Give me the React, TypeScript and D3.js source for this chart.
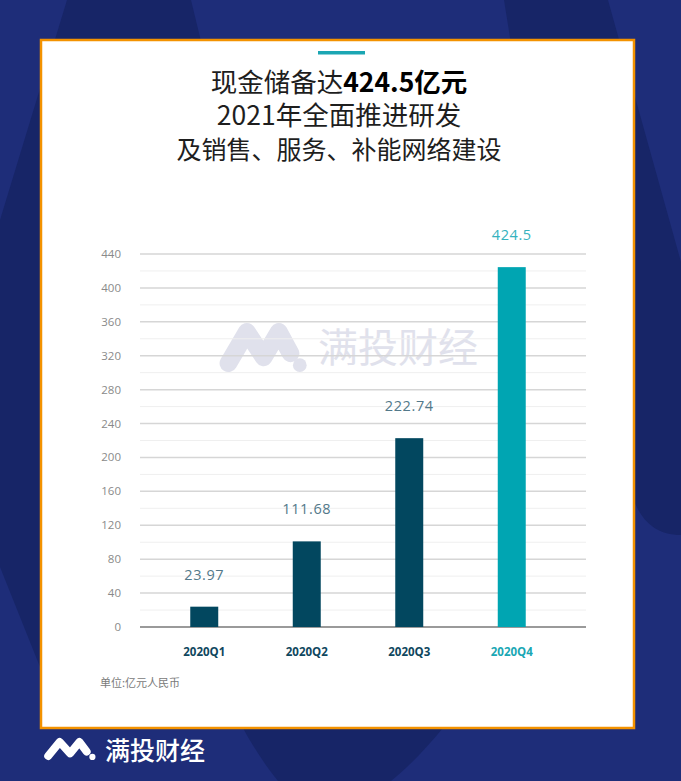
import React from "react";
import * as d3 from "d3";

const categories = ["2020Q1", "2020Q2", "2020Q3", "2020Q4"];
const barHeights = [23.97, 101.0, 222.74, 424.5];
const valueLabels = ["23.97", "111.68", "222.74", "424.5"];
const yTicks = [0, 40, 80, 120, 160, 200, 240, 280, 320, 360, 400, 440];
const minorTicks = [20, 60, 100, 140, 180, 220, 260, 300, 340, 380, 420];
const titleLine1Normal = "现金储备达";
const titleLine1Bold = "424.5亿元";
const titleLine2 = "2021年全面推进研发";
const titleLine3 = "及销售、服务、补能网络建设";
const unitText = "单位:亿元人民币";
const brandText = "满投财经";

const W = 681;
const H = 781;
const CJK = "'Noto Sans CJK SC', 'Noto Sans', sans-serif";
const LAT = "'Open Sans', 'Noto Sans', sans-serif";

function Logo({ x, y, w, h, color }: { x: number; y: number; w: number; h: number; color: string }) {
  const pts: [number, number][] = [
    [0.1, 0.82],
    [0.32, 0.18],
    [0.52, 0.7],
    [0.7, 0.18],
    [0.84, 0.62],
  ];
  const line = d3.line<[number, number]>().x((p) => x + p[0] * w).y((p) => y + p[1] * h);
  return (
    <g>
      <path d={line(pts) || ""} fill="none" stroke={color} strokeWidth={h * 0.36} strokeLinejoin="round" strokeLinecap="round" />
      <circle cx={x + 0.95 * w} cy={y + 0.86 * h} r={h * 0.14} fill={color} />
    </g>
  );
}

export default function App() {
  const y = d3.scaleLinear().domain([0, 440]).range([627, 254]);
  const x = d3.scaleBand<string>().domain(categories).range([153, 563]).paddingInner(0.727).paddingOuter(0.3635);
  const gx0 = 140;
  const gx1 = 586;
  const bw = x.bandwidth();
  const darkBar = "#02475f";
  const tealBar = "#00a5b2";

  return (
    <svg width={W} height={H} style={{ position: "absolute", left: 0, top: 0 }}>
      {/* background */}
      <rect x={0} y={0} width={W} height={H} fill="#1e2d79" />
      <path d="M67,0 L191,0 L300,450 L40,667 L0,567 L0,220 Z" fill="#172567" />
      <path d="M504,0 L608,0 L681,262 L681,535 C655,535 640,520 632,495 L520,100 Z" fill="#172567" />
      <path d="M243,728 L443,728 C425,750 405,770 391,781 L278,781 C265,765 252,745 243,728 Z" fill="#172567" />

      {/* panel */}
      <rect x={41} y={40} width={593} height={688} fill="#ffffff" stroke="#f39200" strokeWidth={2.5} />
      <rect x={318} y={51} width={47} height={3.5} fill="#1ba6b3" />

      {/* title */}
      <text textAnchor="middle" fontFamily={CJK} fontSize={26.5} fill="#1e1e1e">
        <tspan x={339} y={92}>
          <tspan fontWeight={400}>{titleLine1Normal}</tspan>
          <tspan fontWeight={700} fill="#000">{titleLine1Bold}</tspan>
        </tspan>
        <tspan x={339} y={125}>{titleLine2}</tspan>
        <tspan x={339} y={159} fontSize={25}>{titleLine3}</tspan>
      </text>

      {/* watermark */}
      <g opacity={0.9}>
        <Logo x={220} y={323} w={84} h={49} color="#dddeea" />
        <text x={318} y={362} fontFamily={CJK} fontSize={40} fontWeight={400} fill="#dddeea">{brandText}</text>
      </g>

      {/* gridlines */}
      {minorTicks.map((t) => (
        <line key={"m" + t} x1={gx0} x2={gx1} y1={y(t)} y2={y(t)} stroke="#efefef" strokeWidth={1} />
      ))}
      {yTicks.map((t) => (
        <line key={"g" + t} x1={gx0} x2={gx1} y1={y(t)} y2={y(t)} stroke={t === 0 ? "#9a9a9a" : "#d6d6d6"} strokeWidth={t === 0 ? 2 : 1.5} />
      ))}
      {yTicks.map((t) => (
        <text key={"t" + t} x={121} y={y(t) + 4} textAnchor="end" fontFamily={LAT} fontSize={11.5} fill="#8a8a8a">{t}</text>
      ))}

      {/* bars */}
      {categories.map((c, i) => {
        const isLast = i === categories.length - 1;
        return (
          <g key={c}>
            <rect x={x(c)!} y={y(barHeights[i])} width={bw} height={y(0) - y(barHeights[i])} fill={isLast ? tealBar : darkBar} />
            <text x={x(c)! + bw / 2} y={y(barHeights[i]) - 27} textAnchor="middle" fontFamily={LAT} fontSize={14.5} letterSpacing={0.6} fill={isLast ? "#35b2be" : "#53798a"}>{valueLabels[i]}</text>
            <text x={x(c)! + bw / 2} y={656} textAnchor="middle" fontFamily={LAT} fontSize={11.5} fontWeight={700} fill={isLast ? "#1aa7b4" : "#0f475e"}>{c}</text>
          </g>
        );
      })}

      <text x={100} y={687} fontFamily={CJK} fontSize={11} fill="#7a7a7a">{unitText}</text>

      {/* bottom brand */}
      <Logo x={43} y={738} w={52} h={22} color="#ffffff" />
      <text x={105} y={760} fontFamily={CJK} fontSize={25} fontWeight={500} fill="#ffffff">{brandText}</text>
    </svg>
  );
}
